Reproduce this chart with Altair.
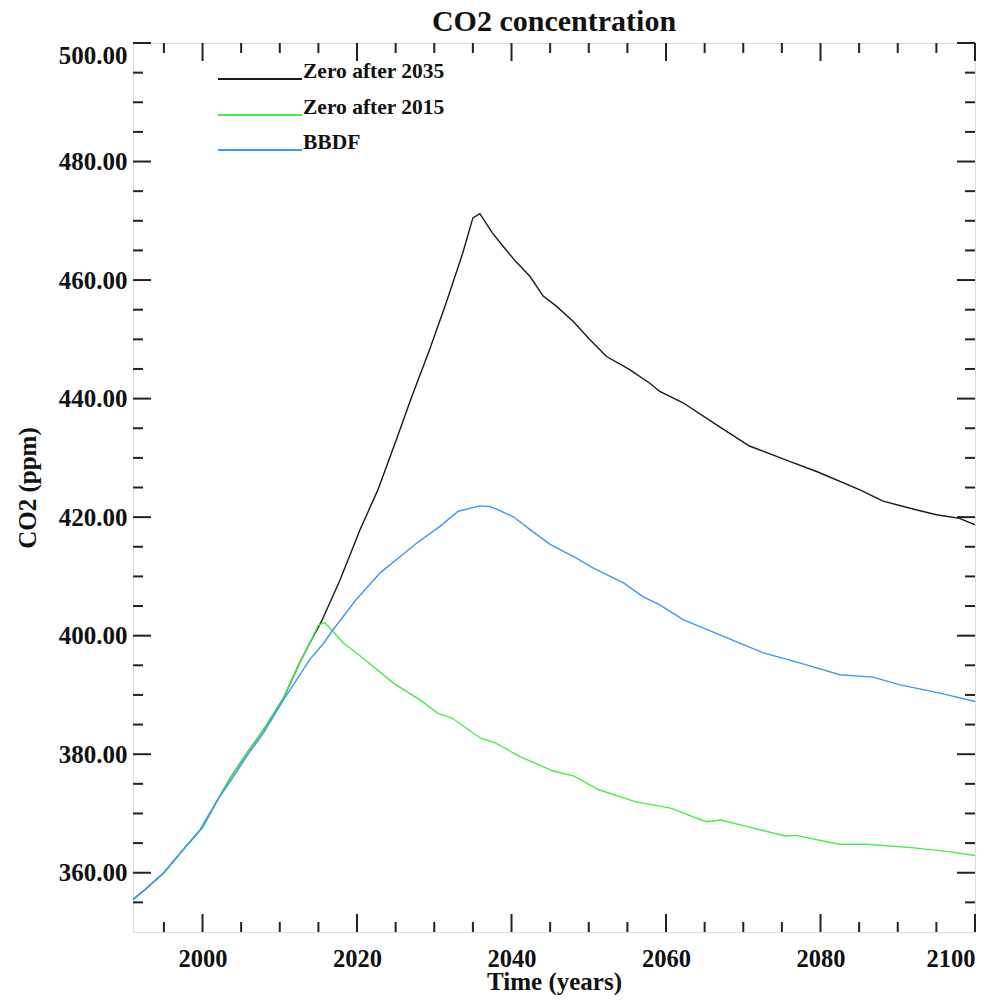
import altair as alt
import pandas as pd

# ---- data ----
black_years = [1991, 1992.5, 1995, 1997.5, 2000, 2002, 2003.6, 2005.7, 2007.9, 2010.5, 2012.6, 2013.9,
               2015.4, 2017.8, 2020.4, 2022.7, 2025.1, 2027, 2029.4, 2031.5, 2033.7, 2035.0,
               2035.9, 2037.5, 2038.9, 2040.5, 2042.4, 2044.1, 2045.8, 2048, 2050.1, 2052.3, 2055.3,
               2057.9, 2059.2, 2062.2, 2066.5, 2070.8, 2076.0, 2079.5, 2085.1, 2088.1, 2091.6,
               2095.0, 2098, 2100]
black_vals = [355.5, 357.1, 360.0, 363.9, 367.6, 372.4, 376.0, 380.1, 384.1, 389.5, 395.5, 398.8,
              402.4, 409.4, 417.9, 424.6, 433.1, 440.0, 448.3, 456.0, 464.6, 470.5,
              471.2, 468.0, 465.7, 463.2, 460.6, 457.3, 455.6, 453.0, 450.0, 447.1, 444.9,
              442.6, 441.2, 439.3, 435.6, 432.0, 429.4, 427.7, 424.6, 422.7, 421.5,
              420.4, 419.8, 418.7]

green_years = [1991, 1992.5, 1995, 1997.5, 2000, 2002, 2003.6, 2005.7, 2007.9, 2010.5, 2012.6, 2013.9,
               2015.0, 2015.8, 2016.9, 2018.2, 2020.8, 2024.7, 2028.1, 2030.5, 2032.3, 2036.0,
               2037.9, 2041.1, 2045.3, 2048.1, 2051.3, 2056.0, 2060.6, 2065.2, 2067.1, 2069.9,
               2075.4, 2076.8, 2082.4, 2086.1, 2092.1, 2096.3, 2100]
green_vals = [355.5, 357.1, 360.0, 363.9, 367.6, 372.4, 376.0, 380.1, 384.1, 389.5, 395.5, 398.8,
              401.8, 402.2, 400.7, 398.8, 396.2, 392.0, 389.2, 386.9, 386.1, 382.7,
              381.9, 379.6, 377.2, 376.3, 374.0, 372.0, 370.9, 368.6, 368.9, 368.0,
              366.2, 366.3, 364.8, 364.8, 364.2, 363.6, 362.9]

blue_years = [1991, 1992.5, 1995, 1997.5, 1999.7, 2001.8, 2003.6, 2005.7, 2007.9, 2010.5, 2012.2, 2013.9,
              2015.6, 2016.9, 2019.9, 2023.0, 2027.7, 2030.7, 2033.1, 2035.9, 2037.2, 2038.5,
              2040.2, 2042.4, 2045.0, 2048.4, 2050.6, 2054.5, 2057.0, 2059.2, 2062.2, 2066.5,
              2072.6, 2077.3, 2082.5, 2086.8, 2090.3, 2095.5, 2100]
blue_vals = [355.5, 357.1, 360.0, 363.9, 367.3, 372.0, 375.4, 379.6, 383.6, 389.2, 392.6, 396.0,
             398.6, 401.0, 406.1, 410.6, 415.6, 418.4, 421.0, 421.9, 421.8, 421.1,
             420.1, 417.9, 415.4, 413.1, 411.4, 408.9, 406.6, 405.2, 402.7, 400.4,
             397.1, 395.4, 393.4, 393.0, 391.7, 390.3, 388.9]

series_names = ["Zero after 2035", "Zero after 2015", "BBDF"]
series_colors = ["#1a1a1a", "#44ee44", "#3d97f5"]
chart_title = ["CO2 concentration"]

x_major = [2000, 2020, 2040, 2060, 2080, 2100]
x_minor = [1995, 2005, 2010, 2015, 2025, 2030, 2035, 2045, 2050, 2055, 2065, 2070, 2075,
           2085, 2090, 2095]
y_major = [360, 380, 400, 420, 440, 460, 480, 500]
y_minor = [355, 365, 370, 375, 385, 390, 395, 405, 410, 415, 425, 430, 435, 445, 450, 455,
           465, 470, 475, 485, 490, 495]

W, H = 842, 889
FONT = "Liberation Serif"

xscale = alt.Scale(domain=[1991, 2100], nice=False, zero=False)
yscale = alt.Scale(domain=[350, 500], nice=False, zero=False)

x_axis = alt.Axis(values=x_major, format="d", ticks=False, tickSize=0, domain=False, grid=False,
                  labelFont=FONT, labelFontWeight="bold", labelFontSize=24.5, labelColor="#111",
                  labelBaseline="alphabetic", labelPadding=34,
                  title="Time (years)", titleFont=FONT, titleFontWeight="bold", titleFontSize=25,
                  titleColor="#111", titleBaseline="alphabetic", titleY=57)
y_axis = alt.Axis(values=y_major, format=".2f", ticks=False, tickSize=0, domain=False, grid=False,
                  labelFont=FONT, labelFontWeight="bold", labelFontSize=25, labelColor="#111",
                  labelPadding=6, labelFlush=True,
                  title="CO2 (ppm)", titleFont=FONT, titleFontWeight="bold", titleFontSize=25,
                  titleColor="#111", titleBaseline="alphabetic", titleX=-98, titleY=H / 2)


def line_layer(years, vals, color):
    df = pd.DataFrame({"year": years, "co2": vals})
    return alt.Chart(df).mark_line(color=color, strokeWidth=1.4, clip=True).encode(
        x=alt.X("year:Q", scale=xscale, axis=x_axis),
        y=alt.Y("co2:Q", scale=yscale, axis=y_axis),
    )


lines = [line_layer(black_years, black_vals, series_colors[0]),
         line_layer(green_years, green_vals, series_colors[1]),
         line_layer(blue_years, blue_vals, series_colors[2])]


def xticks(vals, length):
    df = pd.DataFrame({"v": vals})
    base = alt.Chart(df)
    bottom = base.mark_rule(color="#222", strokeWidth=2).encode(
        x=alt.X("v:Q", scale=xscale, axis=x_axis), y=alt.value(H), y2=alt.value(H - length))
    top = base.mark_rule(color="#222", strokeWidth=2).encode(
        x=alt.X("v:Q", scale=xscale, axis=x_axis), y=alt.value(0), y2=alt.value(length))
    return [bottom, top]


def yticks(vals, length):
    df = pd.DataFrame({"v": vals})
    base = alt.Chart(df)
    left = base.mark_rule(color="#222", strokeWidth=2).encode(
        y=alt.Y("v:Q", scale=yscale, axis=y_axis), x=alt.value(0), x2=alt.value(length))
    right = base.mark_rule(color="#222", strokeWidth=2).encode(
        y=alt.Y("v:Q", scale=yscale, axis=y_axis), x=alt.value(W), x2=alt.value(W - length))
    return [left, right]


ticks = xticks(x_major, 18) + xticks(x_minor, 10) + yticks(y_major, 18) + yticks(y_minor, 10)

legend_layers = []
leg_line_y = [36, 72, 107]
leg_text_y = [35, 71, 106]
for name, color, ly, ty in zip(series_names, series_colors, leg_line_y, leg_text_y):
    ldf = pd.DataFrame({"label": [name]})
    legend_layers.append(
        alt.Chart(ldf).mark_rule(color=color, strokeWidth=2).encode(
            x=alt.value(85), x2=alt.value(169), y=alt.value(ly)))
    legend_layers.append(
        alt.Chart(ldf).mark_text(align="left", baseline="alphabetic", font=FONT,
                                 fontWeight="bold", fontSize=21.5, color="#111").encode(
            text="label:N", x=alt.value(170), y=alt.value(ty)))

title_layer = alt.Chart(pd.DataFrame({"t": chart_title})).mark_text(
    align="center", baseline="alphabetic", font=FONT, fontWeight="bold", fontSize=30,
    color="#111", clip=False).encode(text="t:N", x=alt.value(W / 2), y=alt.value(-12))

chart = alt.layer(*lines, *ticks, *legend_layers, title_layer).properties(
    width=W, height=H,
    autosize=alt.AutoSizeParams(type="none"),
    padding={"left": 133, "top": 43, "right": 29, "bottom": 69},
).configure_view(stroke="#222", strokeWidth=2).configure(background="white")

chart.save("out.html", embed_options={"renderer": "svg", "actions": False})
